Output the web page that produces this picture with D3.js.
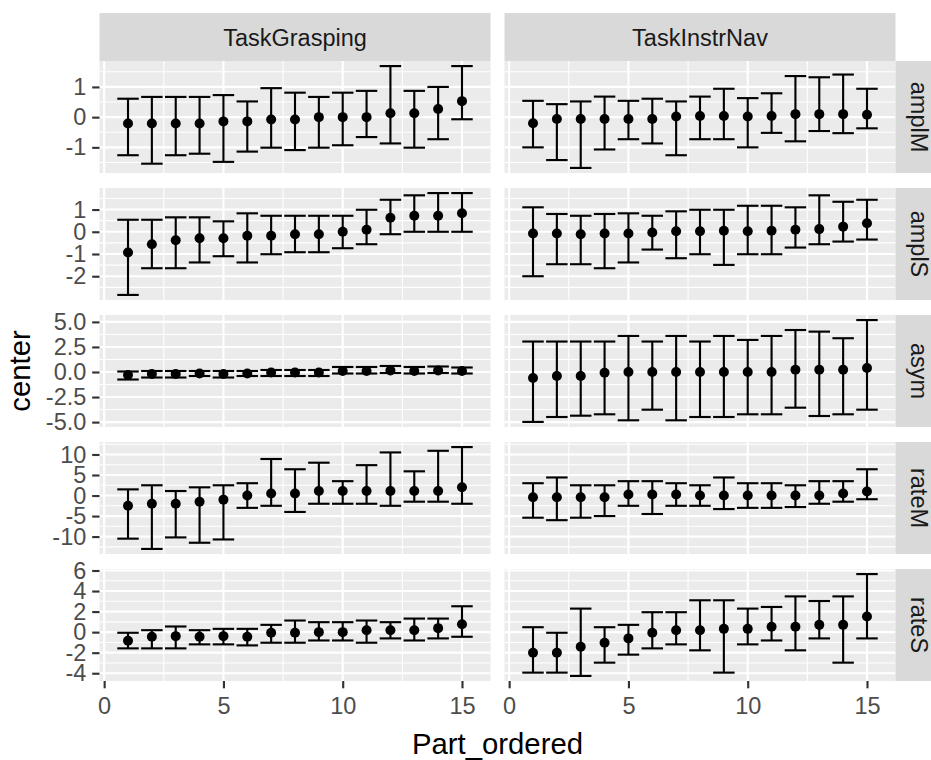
<!DOCTYPE html>
<html>
<head>
<meta charset="utf-8">
<script src="https://cdn.jsdelivr.net/npm/d3@7/dist/d3.min.js"></script>
<style>
  body { margin: 0; background: #ffffff; }
  svg { display: block; font-family: "Liberation Sans", Arial, sans-serif; }
</style>
</head>
<body>
<svg id="chart" width="931" height="760"></svg>
<script>
// ---- data -------------------------------------------------------------
const parts = [1, 2, 3, 4, 5, 6, 7, 8, 9, 10, 11, 12, 13, 14, 15];
const tasks = ["TaskGrasping", "TaskInstrNav"];
const measures = ["amplM", "amplS", "asym", "rateM", "rateS"];

const xBreaks = [0, 5, 10, 15];
const amplMBreaks = [-1, 0, 1];
const amplSBreaks = [-2, -1, 0, 1];
const asymBreaks = [-5, -2.5, 0, 2.5, 5];
const asymLabels = ["-5.0", "-2.5", "0.0", "2.5", "5.0"];
const rateMBreaks = [-10, -5, 0, 5, 10];
const rateSBreaks = [-4, -2, 0, 2, 4, 6];

// amplM
const amplM_grasp_center = [-0.21, -0.21, -0.21, -0.21, -0.14, -0.14, -0.08, -0.08, 0, 0, 0, 0.13, 0.13, 0.27, 0.53];
const amplM_grasp_lower  = [-1.26, -1.54, -1.26, -1.21, -1.48, -1.14, -1.01, -1.09, -1.01, -0.93, -0.66, -0.87, -1.01, -0.73, -0.07];
const amplM_grasp_upper  = [0.61, 0.67, 0.67, 0.67, 0.73, 0.52, 0.96, 0.81, 0.67, 0.81, 0.87, 1.69, 0.87, 1.0, 1.69];
const amplM_nav_center = [-0.2, -0.06, -0.06, -0.06, -0.06, -0.06, 0.02, 0.04, 0.04, 0.02, 0.04, 0.1, 0.1, 0.1, 0.08];
const amplM_nav_lower  = [-1.0, -1.42, -1.68, -1.07, -0.73, -0.87, -1.26, -0.73, -0.73, -1.0, -0.52, -0.8, -0.46, -0.53, -0.37];
const amplM_nav_upper  = [0.54, 0.43, 0.52, 0.68, 0.54, 0.61, 0.52, 0.68, 0.94, 0.63, 0.79, 1.36, 1.32, 1.41, 0.94];

// amplS
const amplS_grasp_center = [-0.93, -0.56, -0.38, -0.29, -0.29, -0.18, -0.18, -0.11, -0.11, 0, 0.09, 0.63, 0.72, 0.72, 0.83];
const amplS_grasp_lower  = [-2.84, -1.64, -1.64, -1.38, -1.1, -1.38, -1.01, -0.92, -0.92, -0.74, -0.56, -0.11, 0, 0, 0];
const amplS_grasp_upper  = [0.54, 0.54, 0.65, 0.65, 0.47, 0.83, 0.72, 0.72, 0.72, 0.72, 0.99, 1.44, 1.64, 1.74, 1.74];
const amplS_nav_center = [-0.08, -0.08, -0.11, -0.08, -0.08, -0.03, 0.02, 0.02, 0.05, 0.02, 0.05, 0.09, 0.12, 0.23, 0.38];
const amplS_nav_lower  = [-2.0, -1.46, -1.46, -1.64, -1.38, -0.8, -1.19, -1.01, -1.49, -1.01, -1.01, -0.71, -0.56, -0.44, -0.35];
const amplS_nav_upper  = [1.1, 0.8, 0.72, 0.8, 0.83, 0.72, 0.92, 0.99, 0.99, 1.17, 1.17, 1.1, 1.64, 1.35, 1.44];

// asym
const asym_grasp_center = [-0.3, -0.2, -0.2, -0.15, -0.2, -0.15, -0.05, -0.05, -0.05, 0.1, 0.1, 0.15, 0.1, 0.15, 0.1];
const asym_grasp_lower  = [-0.75, -0.55, -0.55, -0.4, -0.55, -0.4, -0.4, -0.4, -0.4, -0.15, -0.15, -0.1, -0.15, -0.1, -0.15];
const asym_grasp_upper  = [0.05, 0.1, 0.1, 0.1, 0.1, 0.1, 0.2, 0.2, 0.2, 0.5, 0.5, 0.6, 0.5, 0.55, 0.45];
const asym_nav_center = [-0.59, -0.4, -0.4, -0.07, 0, 0, 0, 0, 0, 0, 0, 0.23, 0.23, 0.23, 0.4];
const asym_nav_lower  = [-4.98, -4.49, -4.36, -4.22, -4.82, -3.76, -4.82, -4.49, -4.49, -4.22, -4.22, -3.56, -4.39, -4.22, -3.76];
const asym_nav_upper  = [3.04, 3.04, 3.04, 3.04, 3.6, 3.04, 3.6, 3.04, 3.6, 3.2, 3.6, 4.19, 4.03, 3.37, 5.18];

// rateM
const rateM_grasp_center = [-2.5, -2.0, -2.0, -1.5, -1.0, 0, 0.5, 0.5, 1.1, 1.1, 1.1, 1.1, 1.1, 1.1, 2.0];
const rateM_grasp_lower  = [-10.5, -13.0, -10.2, -11.5, -10.7, -3.0, -2.5, -4.0, -2.0, -2.0, -2.0, -2.5, -1.5, -1.5, -2.0];
const rateM_grasp_upper  = [1.5, 2.5, 1.1, 2.0, 2.5, 3.0, 8.9, 6.4, 8.0, 3.5, 7.4, 10.5, 5.9, 10.9, 11.8];
const rateM_nav_center = [-0.4, -0.4, -0.4, -0.4, 0.25, 0.25, 0.25, 0, 0, 0, 0, 0, 0, 0.5, 1.0];
const rateM_nav_lower  = [-5.4, -6.0, -5.4, -5.0, -2.5, -4.5, -2.5, -2.5, -3.3, -3.0, -3.0, -2.8, -2.0, -1.5, -0.9];
const rateM_nav_upper  = [3.0, 4.4, 2.5, 2.5, 3.5, 3.5, 3.0, 2.5, 4.4, 3.0, 3.0, 2.5, 3.5, 3.5, 6.4];

// rateS
const rateS_grasp_center = [-0.84, -0.45, -0.39, -0.45, -0.39, -0.45, -0.06, -0.06, 0, 0, 0.19, 0.19, 0.19, 0.39, 0.77];
const rateS_grasp_lower  = [-1.58, -1.58, -1.58, -1.19, -1.19, -1.29, -1.03, -1.03, -0.81, -0.81, -1.03, -0.61, -0.81, -0.61, -0.45];
const rateS_grasp_upper  = [-0.06, 0.19, 0.55, 0.19, 0.32, 0.32, 0.71, 1.13, 0.97, 0.97, 1.13, 0.97, 1.32, 1.32, 2.52];
const rateS_nav_center = [-2.0, -2.0, -1.42, -1.03, -0.61, -0.06, 0.19, 0.19, 0.32, 0.32, 0.52, 0.52, 0.71, 0.71, 1.52];
const rateS_nav_lower  = [-3.94, -3.94, -4.26, -2.97, -2.19, -1.58, -1.19, -1.77, -3.94, -1.19, -0.81, -1.77, -0.61, -2.97, -0.61];
const rateS_nav_upper  = [0.48, -0.06, 2.29, 0.48, 0.71, 1.94, 1.94, 3.1, 3.1, 2.29, 2.45, 3.48, 3.03, 3.48, 5.65];

// ---- assemble facet rows ---------------------------------------------
const rows = [
  { name: "amplM", breaks: amplMBreaks, labels: amplMBreaks.map(String),
    series: [[amplM_grasp_center, amplM_grasp_lower, amplM_grasp_upper],
             [amplM_nav_center, amplM_nav_lower, amplM_nav_upper]] },
  { name: "amplS", breaks: amplSBreaks, labels: amplSBreaks.map(String),
    series: [[amplS_grasp_center, amplS_grasp_lower, amplS_grasp_upper],
             [amplS_nav_center, amplS_nav_lower, amplS_nav_upper]] },
  { name: "asym", breaks: asymBreaks, labels: asymLabels,
    series: [[asym_grasp_center, asym_grasp_lower, asym_grasp_upper],
             [asym_nav_center, asym_nav_lower, asym_nav_upper]] },
  { name: "rateM", breaks: rateMBreaks, labels: rateMBreaks.map(String),
    series: [[rateM_grasp_center, rateM_grasp_lower, rateM_grasp_upper],
             [rateM_nav_center, rateM_nav_lower, rateM_nav_upper]] },
  { name: "rateS", breaks: rateSBreaks, labels: rateSBreaks.map(String),
    series: [[rateS_grasp_center, rateS_grasp_lower, rateS_grasp_upper],
             [rateS_nav_center, rateS_nav_lower, rateS_nav_upper]] }
];

// ---- layout -----------------------------------------------------------
const panelTop = 61, panelH = 112, rowGap = 15;
const colLeft = [99.5, 504.5], panelW = 391;
const stripTop = 13, stripH = 48, sideStripW = 47;
const capHalf = 0.45;
const lw = 2.13, minorLw = 1.07;
const tickLen = 7.3, tickPad = 5.9;
const tickFont = 23.5, stripFont = 23.5, titleFont = 29.3;

const svg = d3.select("#chart");
svg.append("rect").attr("width", 931).attr("height", 760).attr("fill", "#ffffff");

// x scale shared by all panels (errorbar caps included, 5% expansion)
const xLo = d3.min(parts) - capHalf, xHi = d3.max(parts) + capHalf;
const xPad = (xHi - xLo) * 0.05;
const x = d3.scaleLinear().domain([xLo - xPad, xHi + xPad]).range([0, panelW]);

function minorBreaks(breaks, domain) {
  const step = breaks[1] - breaks[0];
  const out = [];
  for (let v = breaks[0] - step / 2; v <= breaks[breaks.length - 1] + step / 2 + 1e-9; v += step) {
    if (v >= domain[0] && v <= domain[1]) out.push(v);
  }
  return out;
}
const xMinor = minorBreaks(xBreaks, x.domain());

// column strips
tasks.forEach((t, ci) => {
  const g = svg.append("g").attr("transform", `translate(${colLeft[ci]},${stripTop})`);
  g.append("rect").attr("width", panelW).attr("height", stripH).attr("fill", "#d9d9d9");
  g.append("text")
    .attr("x", panelW / 2).attr("y", stripH / 2 + 8.5)
    .attr("text-anchor", "middle")
    .attr("font-size", stripFont).attr("fill", "#1a1a1a")
    .text(t);
});

rows.forEach((row, ri) => {
  const top = panelTop + ri * (panelH + rowGap);
  const all = row.series.flatMap(s => s[1].concat(s[2]));
  const lo = d3.min(all), hi = d3.max(all);
  const pad = (hi - lo) * 0.05;
  const y = d3.scaleLinear().domain([lo - pad, hi + pad]).range([panelH, 0]);
  const yMinor = minorBreaks(row.breaks, y.domain());
  const yMajor = row.breaks.filter(v => v >= y.domain()[0] && v <= y.domain()[1]);

  row.series.forEach((s, ci) => {
    const g = svg.append("g").attr("transform", `translate(${colLeft[ci]},${top})`);
    g.append("rect").attr("width", panelW).attr("height", panelH).attr("fill", "#ebebeb");

    // minor grid
    g.selectAll(".ymin").data(yMinor).join("line")
      .attr("x1", 0).attr("x2", panelW).attr("y1", d => y(d)).attr("y2", d => y(d))
      .attr("stroke", "#ffffff").attr("stroke-width", minorLw);
    g.selectAll(".xmin").data(xMinor).join("line")
      .attr("y1", 0).attr("y2", panelH).attr("x1", d => x(d)).attr("x2", d => x(d))
      .attr("stroke", "#ffffff").attr("stroke-width", minorLw);
    // major grid
    g.selectAll(".ymaj").data(yMajor).join("line")
      .attr("x1", 0).attr("x2", panelW).attr("y1", d => y(d)).attr("y2", d => y(d))
      .attr("stroke", "#ffffff").attr("stroke-width", lw);
    g.selectAll(".xmaj").data(xBreaks).join("line")
      .attr("y1", 0).attr("y2", panelH).attr("x1", d => x(d)).attr("x2", d => x(d))
      .attr("stroke", "#ffffff").attr("stroke-width", lw);

    const pts = parts.map((p, i) => ({ p, c: s[0][i], l: s[1][i], u: s[2][i] }));

    // error bars
    const eb = g.selectAll(".eb").data(pts).join("g")
      .attr("stroke", "#000000").attr("stroke-width", lw).attr("fill", "none");
    eb.append("line")
      .attr("x1", d => x(d.p)).attr("x2", d => x(d.p))
      .attr("y1", d => y(d.l)).attr("y2", d => y(d.u));
    eb.append("line")
      .attr("x1", d => x(d.p - capHalf)).attr("x2", d => x(d.p + capHalf))
      .attr("y1", d => y(d.u)).attr("y2", d => y(d.u));
    eb.append("line")
      .attr("x1", d => x(d.p - capHalf)).attr("x2", d => x(d.p + capHalf))
      .attr("y1", d => y(d.l)).attr("y2", d => y(d.l));

    // centre points
    g.selectAll(".pt").data(pts).join("circle")
      .attr("cx", d => x(d.p)).attr("cy", d => y(d.c)).attr("r", 5)
      .attr("fill", "#000000");

    // y axis on the left column only
    if (ci === 0) {
      const ax = g.append("g").call(
        d3.axisLeft(y).tickValues(yMajor)
          .tickFormat(v => row.labels[row.breaks.indexOf(v)])
          .tickSize(tickLen).tickPadding(tickPad));
      ax.select(".domain").remove();
      ax.selectAll(".tick line").attr("stroke", "#333333").attr("stroke-width", lw);
      ax.selectAll(".tick text").attr("fill", "#4d4d4d")
        .attr("font-size", tickFont).attr("font-family", "Liberation Sans, Arial, sans-serif");
    }
    // x axis under the bottom row
    if (ri === rows.length - 1) {
      const ax = g.append("g").attr("transform", `translate(0,${panelH})`).call(
        d3.axisBottom(x).tickValues(xBreaks).tickSize(tickLen).tickPadding(tickPad));
      ax.select(".domain").remove();
      ax.selectAll(".tick line").attr("stroke", "#333333").attr("stroke-width", lw);
      ax.selectAll(".tick text").attr("fill", "#4d4d4d").attr("dy", "0.86em")
        .attr("font-size", tickFont).attr("font-family", "Liberation Sans, Arial, sans-serif");
    }
  });

  // row strip on the right
  const sx = colLeft[1] + panelW;
  const sg = svg.append("g").attr("transform", `translate(${sx},${top})`);
  sg.append("rect").attr("width", sideStripW).attr("height", panelH).attr("fill", "#d9d9d9");
  sg.append("text")
    .attr("transform", `translate(${sideStripW / 2 - 8.5},${panelH / 2}) rotate(90)`)
    .attr("text-anchor", "middle")
    .attr("font-size", stripFont).attr("fill", "#1a1a1a")
    .text(row.name);
});

// axis titles
svg.append("text")
  .attr("x", (colLeft[0] + colLeft[1] + panelW) / 2)
  .attr("y", 754)
  .attr("text-anchor", "middle")
  .attr("font-size", titleFont).attr("fill", "#000000")
  .text("Part_ordered");

svg.append("text")
  .attr("transform", `translate(30,${panelTop + (5 * panelH + 4 * rowGap) / 2}) rotate(-90)`)
  .attr("text-anchor", "middle")
  .attr("font-size", titleFont).attr("fill", "#000000")
  .text("center");
</script>
</body>
</html>
